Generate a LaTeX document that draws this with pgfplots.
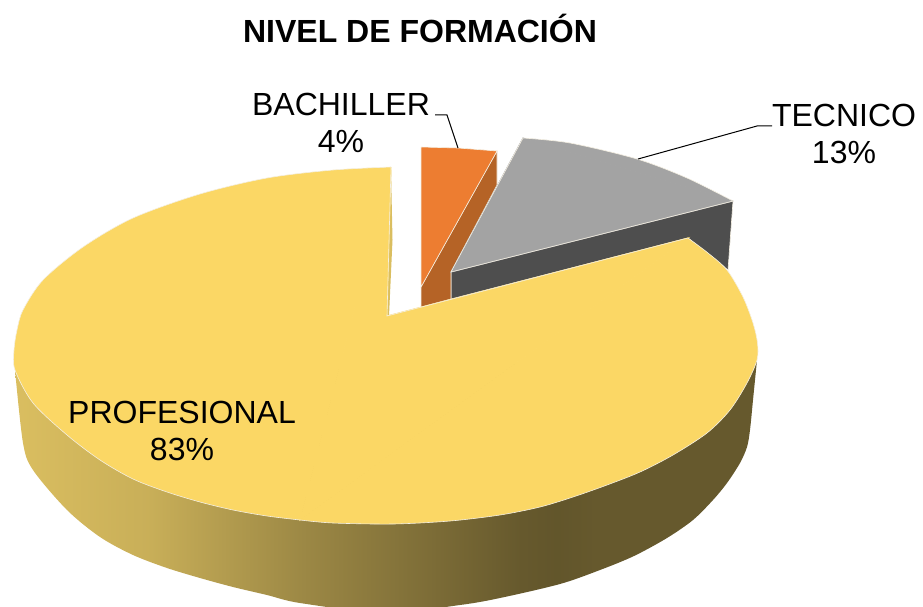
\documentclass[border=0pt]{standalone}
\usepackage{fontspec}
\setmainfont{Liberation Sans}
\usepackage{pgfplots}
\pgfplotsset{compat=1.18}
\definecolor{amarillo}{HTML}{FBD765}
\definecolor{naranja}{HTML}{ED7D31}
\definecolor{naranjaosc}{HTML}{B56326}
\definecolor{gris}{HTML}{A3A3A3}
\definecolor{grisosc}{HTML}{4E4E4E}
\definecolor{bordeclaro}{HTML}{F4EFE2}
\definecolor{tanlado}{HTML}{DABE60}
% side wall gradient: the path bbox maps to 25bp..75bp
\pgfdeclarehorizontalshading{ladoprof}{100bp}{
  color(0bp)=(tanlado); color(25bp)=(tanlado);
  color(34bp)=(tanlado!92!black);
  color(44.2bp)=(tanlado!72!black);
  color(53.7bp)=(tanlado!56!black);
  color(59bp)=(tanlado!47!black);
  color(61.5bp)=(tanlado!45!black);
  color(64.5bp)=(tanlado!47!black);
  color(75bp)=(tanlado!47!black);
  color(100bp)=(tanlado!47!black)}
\begin{document}
\begin{tikzpicture}
\begin{axis}[width=923pt, height=607pt, scale only axis, hide axis,
  xmin=0, xmax=923, ymin=0, ymax=607, y dir=reverse,
  clip mode=individual]
% TECNICO side
\addplot[fill=grisosc, draw=bordeclaro, line width=0.6pt] coordinates {(451,272) (733,201) (728,270) (688,238) (451,299) (451,272)};
% BACHILLER side
\addplot[fill=naranjaosc, draw=bordeclaro, line width=0.6pt] coordinates {(421,287) (497,151) (497,185) (451,272) (451,299) (421,307) (421,287)};
% BACHILLER top
\addplot[fill=naranja, draw=bordeclaro, line width=0.6pt] coordinates {(421,147) (458,148) (497,151) (421,287) (421,147)};
% TECNICO top: rim fill, wedge, then the outline
\addplot[smooth, fill=gris, draw=none] coordinates {(523,138) (570,143) (637,159) (687,178) (733,201)};
\addplot[fill=gris, draw=gris, line width=1pt] coordinates {(733,201) (451,272) (523,138) (733,201)};
\addplot[smooth, draw=bordeclaro, line width=0.6pt] coordinates {(523,138) (570,143) (637,159) (687,178) (733,201)};
\addplot[draw=bordeclaro, line width=0.6pt] coordinates {(733,201) (451,272) (523,138)};
% PROFESIONAL side: outer rim only, its top is covered by the face
\addplot[smooth, shading=ladoprof, draw=none] coordinates {(15,370) (23,443) (33,470) (67,510) (100,537) (133,555) (167,568) (200,578) (233,587) (267,595) (300,603) (385,613) (460,605) (500,598) (560,584) (600,570) (634,556) (667,538) (693,520) (713,500) (727,483) (740,463) (747,447) (750,430) (753,400) (757,360)};
% thin inner wall next to the gap
\addplot[fill=tanlado, draw=none] coordinates {(391,170) (392.5,240) (389,316) (387,316) (391,170)};
% PROFESIONAL top: two rim pieces and the wedge between them
\addplot[smooth, fill=amarillo, draw=none] coordinates {(391,167) (333,170) (267,178) (200,194) (133,218) (83,247) (43,280) (23,310) (17,330) (14,350) (15,370) (33,403) (67,435) (100,460) (133,479) (167,492) (200,502) (233,510) (267,516) (300,520)};
\addplot[smooth, fill=amarillo, draw=none] coordinates {(300,520) (333,523) (393,524) (450,521) (500,515) (540,507) (573,497) (607,485) (640,472) (673,455) (707,433) (730,410) (747,383) (757,360) (757.5,343) (753,323) (743,297) (727,270) (708,253) (688,238)};
\addplot[fill=amarillo, draw=amarillo, line width=1pt] coordinates {(391,167) (387,316) (688,238) (300,520) (391,167)};
\addplot[smooth, draw=bordeclaro, line width=0.6pt] coordinates {(391,167) (333,170) (267,178) (200,194) (133,218) (83,247) (43,280) (23,310) (17,330) (14,350) (15,370) (33,403) (67,435) (100,460) (133,479) (167,492) (200,502) (233,510) (267,516) (300,520)};
\addplot[smooth, draw=bordeclaro, line width=0.6pt] coordinates {(300,520) (333,523) (393,524) (450,521) (500,515) (540,507) (573,497) (607,485) (640,472) (673,455) (707,433) (730,410) (747,383) (757,360) (757.5,343) (753,323) (743,297) (727,270) (708,253) (688,238)};
\addplot[draw=bordeclaro, line width=0.6pt] coordinates {(688,238) (387,316) (391,167)};
% leader lines
\addplot[black, line width=1pt] coordinates {(435,115) (447,115) (458,148)};
\addplot[black, line width=1pt] coordinates {(638,159) (757,126) (772,126)};
% title and data labels
\node[font=\fontsize{32}{37}\selectfont\bfseries] at (axis cs:420,28) {NIVEL DE FORMACIÓN};
\node[font=\fontsize{32}{37}\selectfont, align=center] at (axis cs:341,123) {BACHILLER\\4\%};
\node[font=\fontsize{32}{37}\selectfont, align=center] at (axis cs:844,134) {TECNICO\\13\%};
\node[font=\fontsize{32}{37}\selectfont, align=center] at (axis cs:182,431) {PROFESIONAL\\83\%};
\end{axis}
\pgfresetboundingbox
\path[use as bounding box] (0,0) rectangle (923pt,607pt);
\end{tikzpicture}
\end{document}
